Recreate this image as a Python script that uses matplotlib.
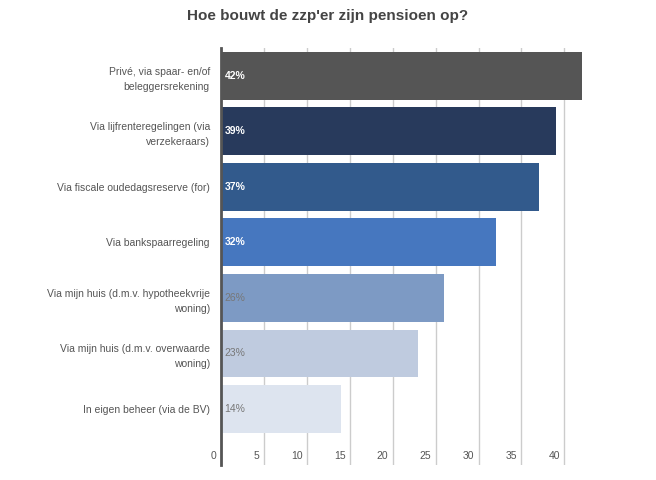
import matplotlib
matplotlib.use("Agg")
import matplotlib.pyplot as plt
from matplotlib.transforms import offset_copy

categories = [
    "Privé, via spaar- en/of\nbeleggersrekening",
    "Via lijfrenteregelingen (via\nverzekeraars)",
    "Via fiscale oudedagsreserve (for)",
    "Via bankspaarregeling",
    "Via mijn huis (d.m.v. hypotheekvrije\nwoning)",
    "Via mijn huis (d.m.v. overwaarde\nwoning)",
    "In eigen beheer (via de BV)",
]
values = [42, 39, 37, 32, 26, 23, 14]
bar_colors = ["#555555", "#283a5c", "#325a8c", "#4677bf", "#7d9ac4", "#bfcbdf", "#dde4ef"]
label_colors = ["white", "white", "white", "white", "#777777", "#777777", "#777777"]
xticks = [0, 5, 10, 15, 20, 25, 30, 35, 40]

plt.rcParams["font.family"] = ["Liberation Sans", "DejaVu Sans"]

fig = plt.figure(figsize=(6.56, 4.8), dpi=100)
ax = fig.add_axes([221 / 656, 1 - 465 / 480, (585 - 221) / 656, (465 - 48) / 480])

y = list(range(len(values)))
ax.barh(y, values, height=0.86, color=bar_colors, zorder=2)
for yi, v, c in zip(y, values, label_colors):
    ax.text(0.4, yi, f"{v}%", color=c, va="center", ha="left", fontsize=7.5,
            fontweight="bold" if c == "white" else "normal", zorder=3)

ax.set_ylim(7.01, -0.5)
ax.set_xlim(0, 42.4)
ax.set_yticks(y)
ax.set_yticklabels(categories, fontsize=7.5, color="#555555", linespacing=1.6)
ax.tick_params(axis="y", length=0, pad=8)
ax.set_xticks(xticks)
ax.set_xticklabels([])
ax.tick_params(axis="x", length=0)
for t in xticks:
    tr = offset_copy(ax.get_xaxis_transform(), fig=fig, x=-3, y=3, units="points")
    ax.text(t, 0, str(t), transform=tr, ha="right", va="bottom", fontsize=7.5, color="#555555")
ax.grid(axis="x", color="#cccccc", linewidth=1, zorder=0)
for s in ["top", "right", "bottom"]:
    ax.spines[s].set_visible(False)
ax.spines["left"].set_color("#555555")
ax.spines["left"].set_linewidth(2)
ax.spines["left"].set_zorder(4)

fig.text(0.5, 1 - 16 / 480, "Hoe bouwt de zzp'er zijn pensioen op?", ha="center", va="center",
         fontsize=11, fontweight="bold", color="#444444")

fig.savefig("out.png", dpi=100)
